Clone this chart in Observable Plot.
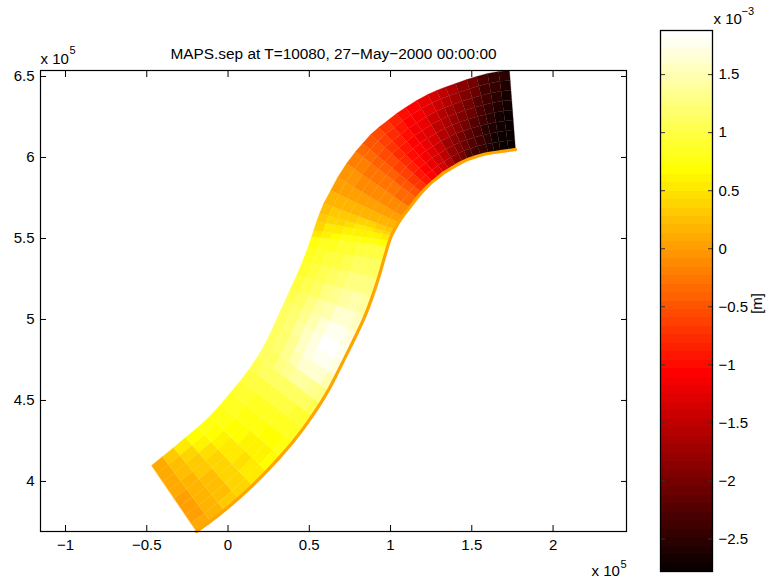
<!DOCTYPE html>
<html>
<head>
<meta charset="utf-8">
<script src="https://cdn.jsdelivr.net/npm/d3@7"></script>
<script src="https://cdn.jsdelivr.net/npm/@observablehq/plot@0.6"></script>
<style>
html,body{margin:0;padding:0;background:#fff;}
#chart{position:relative;width:769px;height:579px;}
#chart svg{position:absolute;left:0;top:0;}
</style>
</head>
<body>
<div id="chart"></div>
<script>
const titleText = "MAPS.sep at T=10080, 27\u2212May\u22122000 00:00:00";
const xTicks = [-1,-0.5,0,0.5,1,1.5,2];
const yTicks = [4,4.5,5,5.5,6,6.5];
const barTicks = [1.5,1,0.5,0,-0.5,-1,-1.5,-2,-2.5];
const xDomain = [-1.154,2.452];
const yDomain = [3.691,6.537];
const sepDomain = [-2.78,1.88];

// Mesh stations along the channel (x, y in 1e5 m), outer bank and inner bank
const outerX = [-0.471,-0.403,-0.335,-0.262,-0.188,-0.114,-0.046,0.015,0.077,0.132,0.182,0.225,0.262,0.292,0.317,0.348,0.385,0.422,0.458,0.489,0.514,0.526,0.545,0.563,0.588,0.631,0.674,0.729,0.785,0.828,0.877,0.926,0.982,1.037,1.092,1.16,1.228,1.283,1.338,1.4,1.468,1.529,1.597,1.665,1.732];
const outerY = [4.099,4.154,4.21,4.272,4.333,4.401,4.475,4.549,4.623,4.698,4.772,4.846,4.92,4.988,5.043,5.111,5.191,5.272,5.358,5.438,5.512,5.549,5.605,5.654,5.716,5.796,5.877,5.963,6.037,6.086,6.142,6.185,6.228,6.272,6.309,6.352,6.389,6.414,6.435,6.457,6.481,6.5,6.519,6.531,6.537];
const innerX = [-0.194,-0.108,-0.022,0.065,0.151,0.237,0.323,0.397,0.465,0.52,0.569,0.618,0.662,0.705,0.748,0.797,0.846,0.889,0.926,0.957,0.982,0.994,1.006,1.012,1.025,1.049,1.074,1.117,1.16,1.191,1.228,1.258,1.295,1.326,1.363,1.4,1.443,1.474,1.511,1.554,1.603,1.64,1.677,1.726,1.769];
const innerY = [3.691,3.753,3.821,3.895,3.975,4.062,4.154,4.241,4.327,4.407,4.481,4.562,4.648,4.735,4.821,4.92,5.025,5.142,5.253,5.364,5.451,5.488,5.519,5.531,5.556,5.599,5.636,5.691,5.747,5.784,5.821,5.852,5.877,5.907,5.926,5.951,5.972,5.988,6.0,6.015,6.025,6.031,6.037,6.043,6.049];
const acrossFractions = [0,0.125,0.25,0.375,0.5,0.625,0.75,0.875,1];

// Sedimentation/erosion per cell, in 1e-3 m; one row per channel section, outer to inner bank
const sepRows = [
[.08,.08,.08,.07,.05,.05,.05,.08],
[.3,.27,.22,.18,.15,.14,.15,.18],
[.5,.42,.35,.3,.26,.24,.25,.28],
[.65,.58,.48,.42,.38,.36,.38,.42],
[.72,.68,.6,.54,.5,.48,.5,.55],
[.78,.74,.7,.65,.62,.6,.62,.66],
[.82,.8,.78,.74,.72,.7,.7,.72],
[.9,.88,.86,.84,.82,.8,.8,.8],
[.96,1,1,1,.98,.95,.92,.9],
[1.02,1.08,1.12,1.15,1.15,1.12,1.1,1.05],
[1.08,1.15,1.25,1.35,1.4,1.38,1.32,1.25],
[1.12,1.2,1.32,1.48,1.6,1.65,1.6,1.5],
[1.14,1.22,1.36,1.55,1.7,1.78,1.8,1.7],
[1.14,1.22,1.38,1.55,1.72,1.82,1.85,1.75],
[1.1,1.2,1.34,1.5,1.65,1.75,1.78,1.7],
[1.05,1.14,1.26,1.4,1.5,1.6,1.62,1.55],
[1,1.06,1.15,1.25,1.35,1.42,1.45,1.4],
[.93,.98,1.05,1.12,1.2,1.26,1.28,1.25],
[.85,.9,.95,1,1.06,1.1,1.12,1.1],
[.76,.8,.85,.88,.92,.95,.95,.95],
[.55,.62,.68,.72,.74,.75,.72,.65],
[.42,.5,.56,.6,.62,.62,.6,.52],
[.33,.38,.42,.46,.5,.5,.47,.42],
[.25,.28,.32,.34,.36,.36,.34,.3],
[.17,.18,.2,.2,.2,.18,.18,.18],
[.05,.05,.05,.03,.03,.02,.02,.02],
[-.08,-.08,-.1,-.12,-.12,-.13,-.13,-.13],
[-.22,-.22,-.24,-.26,-.28,-.3,-.32,-.32],
[-.35,-.36,-.38,-.4,-.42,-.45,-.48,-.5],
[-.46,-.5,-.55,-.58,-.6,-.64,-.68,-.72],
[-.56,-.64,-.72,-.76,-.8,-.85,-.9,-.95],
[-.7,-.78,-.86,-.92,-.98,-1.02,-1.06,-1.08],
[-.86,-.92,-1,-1.05,-1.1,-1.14,-1.18,-1.2],
[-.98,-1.05,-1.15,-1.2,-1.25,-1.3,-1.34,-1.38],
[-1.06,-1.12,-1.22,-1.3,-1.36,-1.42,-1.5,-1.55],
[-1.2,-1.3,-1.4,-1.5,-1.6,-1.7,-1.8,-1.85],
[-1.35,-1.45,-1.55,-1.65,-1.75,-1.85,-1.95,-2.05],
[-1.5,-1.6,-1.7,-1.8,-1.9,-2,-2.1,-2.2],
[-1.65,-1.75,-1.85,-1.95,-2.05,-2.15,-2.25,-2.35],
[-1.85,-1.95,-2,-2.1,-2.2,-2.3,-2.4,-2.45],
[-2.05,-2.1,-2.2,-2.3,-2.4,-2.5,-2.55,-2.6],
[-2.3,-2.35,-2.4,-2.45,-2.55,-2.6,-2.65,-2.68],
[-2.42,-2.48,-2.55,-2.6,-2.65,-2.7,-2.74,-2.74],
[-2.52,-2.58,-2.65,-2.7,-2.74,-2.76,-2.78,-2.78]
];

// MATLAB "hot" colormap with 64 levels
const hotN = 64, hotM = 24;
const hot = d3.range(hotN).map(i => {
  const r = Math.min(1,(i+1)/hotM);
  const g = Math.max(0,Math.min(1,(i+1-hotM)/hotM));
  const b = Math.max(0,(i+1-2*hotM)/(hotN-2*hotM));
  return d3.rgb(r*255,g*255,b*255).formatHex();
});
const levelStep = (sepDomain[1]-sepDomain[0])/hotN;
const thresholds = d3.range(1,hotN).map(i => sepDomain[0]+i*levelStep);
const colorScale = {type:"threshold",domain:thresholds,range:hot};

const cornerAt = (s,f) => ({
  x: outerX[s]+(innerX[s]-outerX[s])*f,
  y: outerY[s]+(innerY[s]-outerY[s])*f
});
const cellPoints = sepRows.flatMap((row,s) => row.flatMap((v,a) => {
  const id = s+"-"+a, f0 = acrossFractions[a], f1 = acrossFractions[a+1];
  return [cornerAt(s,f0),cornerAt(s+1,f0),cornerAt(s+1,f1),cornerAt(s,f1)]
    .map(p => ({...p,id,v}));
}));
const innerBank = innerX.map((x,i) => ({x,y:innerY[i]}));
const levels = d3.range(hotN).map(i => ({
  lo: sepDomain[0]+i*levelStep,
  hi: sepDomain[0]+(i+1)*levelStep,
  mid: sepDomain[0]+(i+0.5)*levelStep
}));
const fmt = d => String(d).replace("-","\u2212");
const FONT = "'Liberation Sans',Helvetica,Arial,sans-serif";

const note = (t,o) => Plot.text([t],{text:d=>d,fill:"#000",...o});

const main = Plot.plot({
  width:769,height:579,
  marginLeft:40,marginRight:143,marginTop:70,marginBottom:48,
  style:{background:"transparent",fontFamily:FONT,fontSize:"15px",overflow:"visible"},
  x:{domain:xDomain,label:null},
  y:{domain:yDomain,label:null},
  color:colorScale,
  marks:[
    Plot.line(cellPoints,{x:"x",y:"y",z:"id",fill:"v",stroke:"v",strokeWidth:0.25,curve:"linear-closed"}),
    Plot.line(innerBank,{x:"x",y:"y",stroke:"#ffa500",strokeWidth:3.2,curve:"basis"}),
    Plot.axisX({ticks:xTicks,tickFormat:fmt,tickSize:0,tickPadding:8,label:null,fontSize:15,anchor:"bottom"}),
    Plot.axisY({ticks:yTicks,tickFormat:fmt,tickSize:0,tickPadding:6,label:null,fontSize:15,anchor:"left"}),
    Plot.axisX({ticks:xTicks,text:null,tickSize:6,anchor:"bottom",dy:-6,label:null}),
    Plot.axisX({ticks:xTicks,text:null,tickSize:6,anchor:"top",dy:6,label:null}),
    Plot.axisY({ticks:yTicks,text:null,tickSize:6,anchor:"left",dx:6,label:null}),
    Plot.axisY({ticks:yTicks,text:null,tickSize:6,anchor:"right",dx:-6,label:null}),
    Plot.frame({stroke:"#000",strokeWidth:1.2}),
    note(titleText,{frameAnchor:"top",dy:-22,fontSize:15.4}),
    note("x 10",{frameAnchor:"top-left",dx:0,dy:-17,fontSize:15,textAnchor:"start"}),
    note("5",{frameAnchor:"top-left",dx:29,dy:-24,fontSize:11,textAnchor:"start"}),
    note("x 10",{frameAnchor:"bottom-right",dx:-35,dy:44,fontSize:15,textAnchor:"start"}),
    note("5",{frameAnchor:"bottom-right",dx:-6,dy:36,fontSize:11,textAnchor:"start"})
  ]
});

const bar = Plot.plot({
  width:769,height:579,
  marginLeft:660,marginRight:57,marginTop:30,marginBottom:8,
  style:{background:"transparent",fontFamily:FONT,fontSize:"15px",overflow:"visible"},
  x:{domain:[0,1],axis:null},
  y:{domain:sepDomain,label:null},
  color:colorScale,
  marks:[
    Plot.rect(levels,{x1:()=>0,x2:()=>1,y1:"lo",y2:"hi",fill:"mid",shapeRendering:"crispEdges"}),
    Plot.axisY({ticks:barTicks,tickFormat:fmt,tickSize:0,tickPadding:6,anchor:"right",textAnchor:"start",label:null,fontSize:15}),
    Plot.axisY({ticks:barTicks,text:null,tickSize:5,anchor:"left",dx:5,label:null,stroke:"#333"}),
    Plot.axisY({ticks:barTicks,text:null,tickSize:5,anchor:"right",dx:-5,label:null,stroke:"#333"}),
    Plot.frame({stroke:"#000",strokeWidth:1.3}),
    note("x 10",{frameAnchor:"top-right",dx:1,dy:-17,fontSize:15,textAnchor:"start"}),
    note("\u22123",{frameAnchor:"top-right",dx:29,dy:-23,fontSize:11,textAnchor:"start"}),
    note("[m]",{frameAnchor:"right",dx:45,dy:-8,fontSize:15,rotate:-90})
  ]
});
const host = document.getElementById("chart");
host.append(main,bar);
</script>
</body>
</html>
